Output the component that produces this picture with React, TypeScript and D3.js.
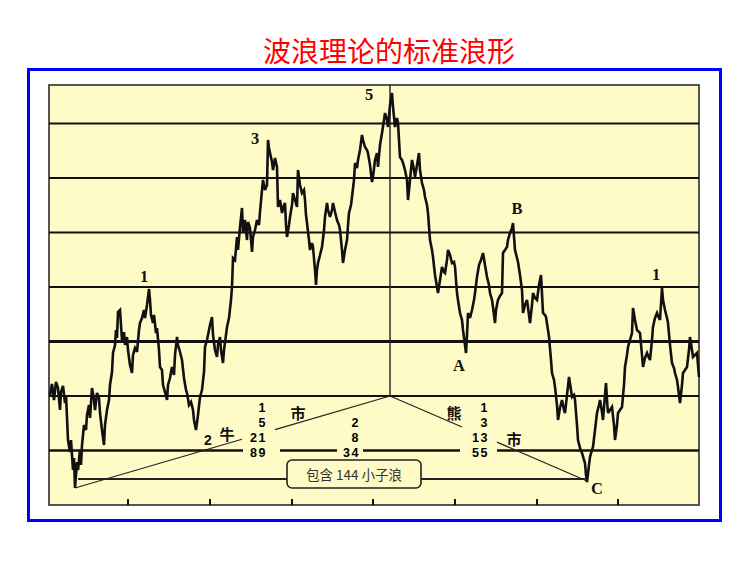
import React from 'react';
import * as d3 from 'd3';

const W = 750;
const H = 562;

const titleText = '波浪理论的标准浪形';
const boxText = '包含 144 小子浪';

// price path: [time, level]
const waveSeries: [number, number][] = [
  [1,110],[3,121],[5,105],[7,123],[9,117],[11,95],[12,113],[14,119],[16,102],[17,110],
  [19,65],[21,53],[22,65],[24,35],[25,47],[26,17],[28,43],[29,35],[31,55],[32,40],
  [33,60],[35,80],[37,75],[38,90],[40,100],[41,87],[43,117],[45,105],[46,95],[48,112],
  [50,107],[51,92],[53,75],[55,60],[56,80],[58,95],[60,105],[61,120],[63,133],[64,152],
  [66,160],[67,175],[68,167],[69,193],[71,195],[72,180],[73,165],[75,173],[76,160],[78,168],
  [79,155],[81,140],[83,132],[84,150],[86,157],[88,153],[90,175],[91,182],[93,187],[95,195],
  [96,187],[98,200],[100,216],[101,205],[102,190],[104,182],[105,190],[107,172],[108,177],[110,155],
  [111,138],[113,135],[114,120],[116,113],[118,105],[119,120],[121,127],[123,138],[125,130],[126,150],
  [128,168],[129,160],[131,153],[133,145],[135,127],[137,115],[138,112],[140,100],[142,103],[144,95],
  [145,85],[147,75],[149,90],[151,108],[153,115],[155,133],[156,158],[158,165],[160,175],[161,180],
  [163,188],[164,170],[166,155],[168,148],[169,160],[171,168],[172,155],[174,142],[175,155],[177,170],
  [178,178],[180,187],[182,205],[183,218],[184,247],[186,245],[188,268],[189,255],
  [191,278],[193,297],[194,272],[196,285],[198,265],[199,283],[201,277],[203,253],[204,268],[206,275],
  [208,285],[210,280],[211,293],[213,315],[214,325],[216,315],[218,320],[219,365],[220,357],[221,352],
  [223,343],[224,335],[226,347],[228,338],[229,298],[231,305],[233,292],[235,300],[236,302],[237,280],
  [238,268],[240,280],[241,288],[243,300],[244,312],[246,305],[248,298],[249,335],[251,320],[253,312],
  [255,315],[256,305],[257,290],[258,282],[260,265],[261,255],[263,262],[264,258],[266,235],[267,220],
  [268,235],[269,242],[271,250],[273,258],[275,275],[276,288],[278,302],[279,295],[281,288],[283,295],
  [284,302],[286,293],[288,285],[290,280],[291,275],[293,255],[294,242],[296,255],[298,265],[299,280],
  [300,292],[302,300],[303,308],[305,325],[306,342],[308,337],[309,345],[311,355],[313,370],[314,365],
  [316,358],[318,355],[319,352],[321,340],[323,323],[324,328],[326,345],[328,352],[329,338],[331,360],
  [333,372],[335,385],[336,392],[338,385],[339,378],[341,400],[343,412],[344,398],[346,378],[348,387],
  [349,382],[351,348],[353,345],[354,342],[356,335],[358,325],[359,305],[361,325],[363,345],[365,335],
  [366,328],[368,340],[370,352],[371,335],[373,322],[375,315],[376,308],[378,300],[379,292],[381,265],
  [383,255],[384,248],[386,230],[388,218],[389,212],[391,225],[393,238],[395,233],[396,232],[398,245],
  [399,255],[401,250],[403,242],[405,243],[406,238],[408,212],[409,205],[411,192],[413,185],[414,175],
  [416,160],[417,152],[418,170],[419,192],[421,187],[423,195],[425,205],[426,212],[428,228],[430,240],
  [432,245],[434,252],[436,240],[438,228],[440,220],[441,212],[443,205],[444,198],[446,182],[447,195],
  [449,205],[451,209],[453,212],[454,252],[456,255],[458,258],[459,265],[461,272],[463,277],[464,282],
  [466,255],[468,247],[469,243],[471,230],[473,215],[474,192],[476,200],[478,205],[480,190],[481,182],
  [483,200],[484,212],[486,207],[488,205],[490,220],[492,230],[494,192],[496,190],[497,188],[499,175],
  [500,168],[502,145],[503,132],[505,125],[506,118],[508,100],[509,85],[511,97],[513,105],[515,95],
  [516,92],[518,110],[520,128],[522,115],[523,108],[525,110],[526,105],[528,80],[529,65],[531,57],
  [533,52],[535,45],[536,42],[537,30],[538,23],[540,40],[541,48],[543,55],[544,58],[546,75],
  [548,92],[550,100],[551,105],[553,93],[554,85],[556,110],[557,122],[558,105],[559,92],[561,95],
  [563,98],[565,80],[566,65],[568,80],[569,92],[571,95],[573,98],[575,120],[576,138],[578,150],
  [579,158],[581,165],[583,172],[584,197],[586,185],[588,175],[590,173],[591,172],[593,150],[594,138],
  [596,147],[598,152],[600,147],[601,145],[603,165],[604,178],[606,187],[608,192],[610,187],[611,185],
  [613,217],[614,205],[616,195],[618,187],[619,182],[621,160],[623,142],[625,137],[626,132],[628,125],
  [629,118],[631,102],[633,120],[634,132],[636,135],[638,138],[640,155],[641,168],[643,155],[644,148],
  [646,150],[648,152],[650,128],
];

const gridLevels = [54.5, 109, 163.5, 218, 272.5, 327, 381.5];
const heavyLevel = 163.5;
const tickTimes = [79, 161, 243, 324, 406, 488, 569];

const waveLabelText = ['1', '3', '5', 'B', 'A', 'C', '1'];
const waveLabelT = [95, 206, 320, 468, 410, 548, 607];
const waveLabelP = [229, 367, 411, 297, 140, 17, 231];

const bullNumbers = ['1', '5', '21', '89'];
const midNumbers = ['2', '8', '34'];
const bearNumbers = ['1', '3', '13', '55'];
const numberRowP = [97.5, 82.5, 67.5, 52.5];
const bullColT = 218;
const midColT = 311;
const bearColT = 440;

const cjkText = ['2', '牛', '市', '熊', '市'];
const cjkT = [159, 178, 249, 405, 465];
const cjkP = [65, 72, 93, 93, 67];

// structure points
const apex: [number, number] = [341, 109];
const bullStart: [number, number] = [26, 17];
const bearEnd: [number, number] = [538, 24];
const baseLevel = 26;
const baseFrom = 29;
const baseTo = 536;
const gridGaps: [number, number][] = [[194, 231], [288, 314], [411, 448]];
const bullGap: [number, number] = [193, 226];
const bearGap: [number, number] = [413, 448];
const boxCenter: [number, number] = [305, 31];

export default function App() {
  const x = d3.scaleLinear().domain([0, 650]).range([49, 699]);
  const y = d3.scaleLinear().domain([0, 420]).range([505, 85]);
  const line = d3.line<[number, number]>().x(d => x(d[0])).y(d => y(d[1]));

  const interp = (a: [number, number], b: [number, number], t: number): [number, number] =>
    [t, a[1] + (b[1] - a[1]) * (t - a[0]) / (b[0] - a[0])];

  const gridSegments = (level: number) => {
    if (level !== 54.5) return [[0, 650]];
    const segs: number[][] = [];
    let start = 0;
    gridGaps.forEach(g => { segs.push([start, g[0]]); start = g[1]; });
    segs.push([start, 650]);
    return segs;
  };

  const bullSegs: [number, number][][] = [
    [bullStart, interp(bullStart, apex, bullGap[0])],
    [interp(bullStart, apex, bullGap[1]), apex],
  ];
  const bearSegs: [number, number][][] = [
    [apex, interp(apex, bearEnd, bearGap[0])],
    [interp(apex, bearEnd, bearGap[1]), bearEnd],
  ];

  const numFont = { fontFamily: '"Liberation Sans", Arial, sans-serif', fontWeight: 700, fontSize: 12.5, letterSpacing: 1.5 };
  const yellow = '#fefbc6';

  return (
    <svg width={W} height={H} style={{ position: 'absolute', left: 0, top: 0, background: '#fff' }}>
      <text x={389} y={50} textAnchor="middle" dominantBaseline="central"
        style={{ fontFamily: '"Noto Sans CJK SC", sans-serif', fontSize: 28, fill: '#f00' }}>{titleText}</text>
      <rect x={28.5} y={69.5} width={692} height={451} fill="none" stroke="#0000ff" strokeWidth={3} />
      <rect x={x(0)} y={y(420)} width={x(650) - x(0)} height={y(0) - y(420)} fill={yellow} stroke="#444" strokeWidth={1.8} />
      {gridLevels.map(level => gridSegments(level).map((s, i) => (
        <line key={level + '-' + i} x1={x(s[0])} x2={x(s[1])} y1={y(level)} y2={y(level)}
          stroke="#111" strokeWidth={level === heavyLevel ? 3 : (level === 54.5 ? 2.4 : 2)} />
      )))}
      {tickTimes.map(t => (
        <line key={t} x1={x(t)} x2={x(t)} y1={y(0)} y2={y(6)} stroke="#111" strokeWidth={2} />
      ))}
      <line x1={x(apex[0])} x2={x(apex[0])} y1={y(420)} y2={y(apex[1])} stroke="#222" strokeWidth={1.4} />
      {bullSegs.concat(bearSegs).map((s, i) => (
        <path key={i} d={line(s) || ''} stroke="#222" strokeWidth={1.2} fill="none" />
      ))}
      <line x1={x(baseFrom)} x2={x(baseTo)} y1={y(baseLevel)} y2={y(baseLevel)} stroke="#222" strokeWidth={1.8} />
      <rect x={x(boxCenter[0]) - 67} y={y(boxCenter[1]) - 14} width={134} height={28} rx={5}
        fill={yellow} stroke="#222" strokeWidth={1.6} />
      <text x={x(boxCenter[0])} y={y(boxCenter[1])} textAnchor="middle" dominantBaseline="central"
        style={{ fontFamily: '"Noto Sans CJK SC", sans-serif', fontSize: 13.5, fill: '#333' }}>{boxText}</text>
      <path d={line(waveSeries) || ''} fill="none" stroke="#111" strokeWidth={2.6} strokeLinejoin="miter" strokeMiterlimit={3} />
      {waveLabelText.map((s, i) => (
        <text key={i} x={x(waveLabelT[i])} y={y(waveLabelP[i])} textAnchor="middle" dominantBaseline="central"
          style={{ fontFamily: '"Liberation Serif", serif', fontWeight: 700, fontSize: 16.5, fill: '#111' }}>{s}</text>
      ))}
      {bullNumbers.map((s, i) => (
        <text key={'b' + i} x={x(bullColT)} y={y(numberRowP[i])} textAnchor="end" dominantBaseline="central" style={numFont}>{s}</text>
      ))}
      {midNumbers.map((s, i) => (
        <text key={'m' + i} x={x(midColT)} y={y(numberRowP[i + 1])} textAnchor="end" dominantBaseline="central" style={numFont}>{s}</text>
      ))}
      {bearNumbers.map((s, i) => (
        <text key={'r' + i} x={x(bearColT)} y={y(numberRowP[i])} textAnchor="end" dominantBaseline="central" style={numFont}>{s}</text>
      ))}
      {cjkText.map((s, i) => (
        <text key={'c' + i} x={x(cjkT[i])} y={y(cjkP[i])} textAnchor="middle" dominantBaseline="central"
          style={{ fontFamily: i === 0 ? '"Liberation Sans", sans-serif' : '"Noto Sans CJK SC", sans-serif', fontWeight: 700, fontSize: i === 0 ? 14 : 15, fill: '#111' }}>{s}</text>
      ))}
    </svg>
  );
}
